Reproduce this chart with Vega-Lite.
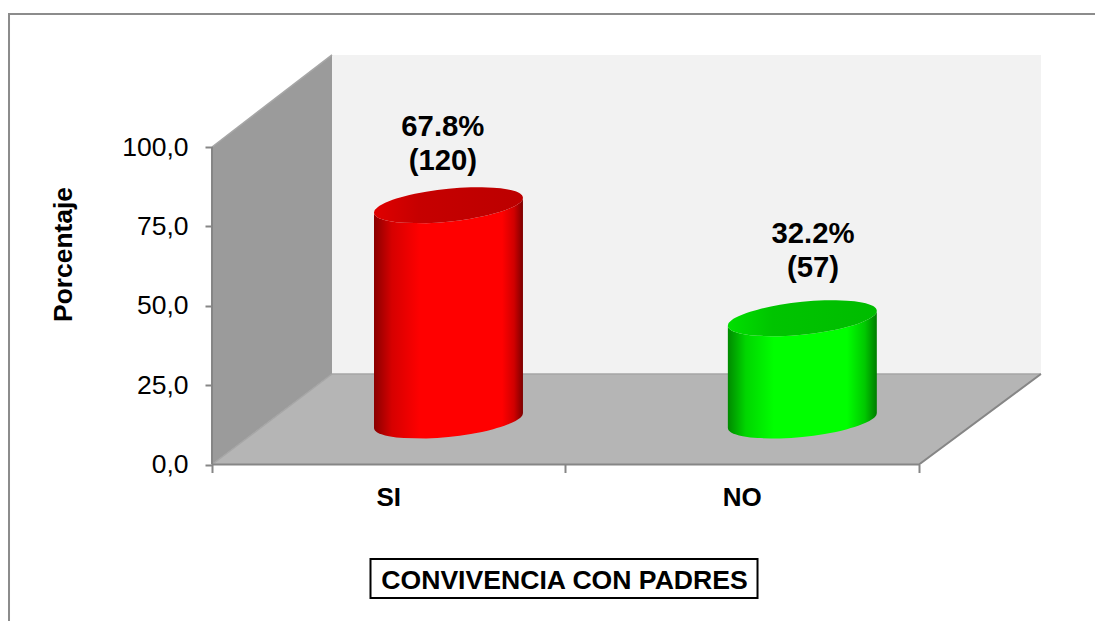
{
"$schema":"https://vega.github.io/schema/vega-lite/v6.json",
"width":1095,"height":621,"padding":0,
"autosize":{"type":"none"},
"background":"white",
"config":{"view":{"stroke":null},"text":{"font":"Liberation Sans"},"axis":{"labelFont":"Liberation Sans","titleFont":"Liberation Sans"}},
"datasets":{
"pared":[{"x":0,"y":0,"y2":100},{"x":0.3395,"y":28.5,"y2":129}],
"fondo":[{"x":0.3395,"y":28.5,"y2":129},{"x":2.345,"y":28.5,"y2":129}],
"piso":[{"x":0,"y":0,"y2":0},{"x":0.3395,"y":0,"y2":28.5},{"x":2,"y":0,"y2":28.5},{"x":2.345,"y":28.5,"y2":28.5}],
"bordes":[
{"id":"a","o":1,"x":0,"y":0},{"id":"a","o":2,"x":0,"y":100},
{"id":"b","o":1,"x":0,"y":0},{"id":"b","o":2,"x":2,"y":0},{"id":"b","o":3,"x":2.345,"y":28.5}],
"bordesClaros":[
{"id":"c","o":1,"x":0.3395,"y":28.5},{"id":"c","o":2,"x":2.345,"y":28.5},
{"id":"d","o":1,"x":0,"y":0},{"id":"d","o":2,"x":0.3395,"y":28.5},
{"id":"e","o":1,"x":0,"y":100},{"id":"e","o":2,"x":0.3395,"y":129}],
"marco":[{"o":1,"x":-0.5742,"y":-49.29},{"o":2,"x":-0.5742,"y":141.9},{"o":3,"x":2.4979,"y":141.9}],
"cuerpoSI":[
{"x":0.4583,"y":11.51,"y2":79.31},{"x":0.4594,"y":11.005,"y2":78.805},{"x":0.4625,"y":10.527,"y2":78.327},{"x":0.4687,"y":10.02,"y2":77.82},{"x":0.4794,"y":9.495,"y2":77.295},{"x":0.5004,"y":8.88,"y2":76.68},{"x":0.5426,"y":8.32,"y2":76.12},{"x":0.6058,"y":8.22,"y2":76.02},{"x":0.669,"y":8.69,"y2":76.49},{"x":0.7322,"y":9.64,"y2":77.44},{"x":0.7954,"y":11.14,"y2":78.94},{"x":0.8376,"y":12.64,"y2":80.44},{"x":0.8586,"y":13.725,"y2":81.525},{"x":0.8693,"y":14.48,"y2":82.28},{"x":0.8755,"y":15.133,"y2":82.933},{"x":0.8786,"y":15.68,"y2":83.48},{"x":0.8797,"y":16.21,"y2":84.01}],
"tapaSI":[
{"x":0.4583,"y":79.31,"y2":79.31},{"x":0.4594,"y":78.805,"y2":79.84},{"x":0.4625,"y":78.327,"y2":80.387},{"x":0.4687,"y":77.82,"y2":81.04},{"x":0.4794,"y":77.295,"y2":81.795},{"x":0.5004,"y":76.68,"y2":82.88},{"x":0.5426,"y":76.12,"y2":84.38},{"x":0.6058,"y":76.02,"y2":85.88},{"x":0.669,"y":76.49,"y2":86.83},{"x":0.7322,"y":77.44,"y2":87.30},{"x":0.7954,"y":78.94,"y2":87.20},{"x":0.8376,"y":80.44,"y2":86.64},{"x":0.8586,"y":81.525,"y2":86.025},{"x":0.8693,"y":82.28,"y2":85.50},{"x":0.8755,"y":82.933,"y2":84.993},{"x":0.8786,"y":83.48,"y2":84.515},{"x":0.8797,"y":84.01,"y2":84.01}],
"cuerpoNO":[
{"x":1.4593,"y":11.51,"y2":43.71},{"x":1.4604,"y":11.005,"y2":43.205},{"x":1.4635,"y":10.527,"y2":42.727},{"x":1.4697,"y":10.02,"y2":42.22},{"x":1.4804,"y":9.495,"y2":41.695},{"x":1.5014,"y":8.88,"y2":41.08},{"x":1.5436,"y":8.32,"y2":40.52},{"x":1.6068,"y":8.22,"y2":40.42},{"x":1.67,"y":8.69,"y2":40.89},{"x":1.7332,"y":9.64,"y2":41.84},{"x":1.7964,"y":11.14,"y2":43.34},{"x":1.8386,"y":12.64,"y2":44.84},{"x":1.8596,"y":13.725,"y2":45.925},{"x":1.8703,"y":14.48,"y2":46.68},{"x":1.8765,"y":15.133,"y2":47.333},{"x":1.8796,"y":15.68,"y2":47.88},{"x":1.8807,"y":16.21,"y2":48.41}],
"tapaNO":[
{"x":1.4593,"y":43.71,"y2":43.71},{"x":1.4604,"y":43.205,"y2":44.24},{"x":1.4635,"y":42.727,"y2":44.787},{"x":1.4697,"y":42.22,"y2":45.44},{"x":1.4804,"y":41.695,"y2":46.195},{"x":1.5014,"y":41.08,"y2":47.28},{"x":1.5436,"y":40.52,"y2":48.78},{"x":1.6068,"y":40.42,"y2":50.28},{"x":1.67,"y":40.89,"y2":51.23},{"x":1.7332,"y":41.84,"y2":51.70},{"x":1.7964,"y":43.34,"y2":51.60},{"x":1.8386,"y":44.84,"y2":51.04},{"x":1.8596,"y":45.925,"y2":50.425},{"x":1.8703,"y":46.68,"y2":49.90},{"x":1.8765,"y":47.333,"y2":49.393},{"x":1.8796,"y":47.88,"y2":48.915},{"x":1.8807,"y":48.41,"y2":48.41}],
"resultados":[
{"categoria":"SI","porcentaje":67.8,"n":120,"etiqueta":"67.8%\n(120)","x":0.653,"y":106.3},
{"categoria":"NO","porcentaje":32.2,"n":57,"etiqueta":"32.2%\n(57)","x":1.7,"y":72.6}],
"categorias":[{"categoria":"SI","x":0.5,"y":-10.55},{"categoria":"NO","x":1.5,"y":-10.55}],
"cuadro":[{"x":0.4484,"x2":1.5432,"y":-29.76,"y2":-42.05}]
},
"encoding":{
"x":{"field":"x","type":"quantitative","scale":{"domain":[-0.5997,2.4979],"nice":false,"zero":false},
"axis":{"orient":"bottom","offset":-156.5,"values":[0,1,2],"labels":false,"domain":false,"grid":false,"tickColor":"#868686","tickWidth":2,"tickSize":8,"zindex":1,
"title":"CONVIVENCIA CON PADRES","titleFontSize":26.6,"titleFontWeight":"bold","titleColor":"black","titleX":564,"titleY":115.5,"titleBaseline":"middle","titleAlign":"center","titleAnchor":null}},
"y":{"field":"y","type":"quantitative","scale":{"domain":[-49.29,146.3],"nice":false,"zero":false},
"axis":{"orient":"left","offset":-212,"values":[0,25,50,75,100],"domain":false,"grid":false,"tickColor":"#868686","tickWidth":2,"tickSize":7,"zindex":1,
"labelFontSize":26.5,"labelColor":"black","labelPadding":17,"labelExpr":"replace(format(datum.value,'.1f'),'.',',')",
"title":"Porcentaje","titleFontSize":26.4,"titleFontWeight":"bold","titleColor":"black","titleAngle":270,"titleX":-149,"titleY":254,"titleBaseline":"middle","titleAlign":"center","titleAnchor":null}}
},
"layer":[
{"data":{"name":"marco"},"mark":{"type":"line","stroke":"#8c8c8c","strokeWidth":2},"encoding":{"order":{"field":"o"}}},
{"data":{"name":"fondo"},"mark":{"type":"area","fill":"#f2f2f2"},"encoding":{"y2":{"field":"y2"}}},
{"data":{"name":"pared"},"mark":{"type":"area","fill":"#9b9b9b"},"encoding":{"y2":{"field":"y2"}}},
{"data":{"name":"piso"},"mark":{"type":"area","fill":"#b5b5b5"},"encoding":{"y2":{"field":"y2"}}},
{"data":{"name":"bordesClaros"},"mark":{"type":"line","stroke":"#a6a6a6","strokeWidth":1.5},"encoding":{"detail":{"field":"id"},"order":{"field":"o"}}},
{"data":{"name":"bordes"},"mark":{"type":"line","stroke":"#868686","strokeWidth":2},"encoding":{"detail":{"field":"id"},"order":{"field":"o"}}},
{"data":{"name":"cuerpoSI"},"mark":{"type":"area","interpolate":"monotone","fill":{"gradient":"linear","x1":0,"y1":0,"x2":1,"y2":0,"stops":[{"offset":0,"color":"#8a0000"},{"offset":0.12,"color":"#d60000"},{"offset":0.31,"color":"#ff0000"},{"offset":0.86,"color":"#ff0000"},{"offset":0.94,"color":"#d00000"},{"offset":1,"color":"#7c0000"}]}},"encoding":{"y2":{"field":"y2"}}},
{"data":{"name":"tapaSI"},"mark":{"type":"area","interpolate":"monotone","fill":{"gradient":"linear","x1":0,"y1":0,"x2":1,"y2":0,"stops":[{"offset":0,"color":"#e00000"},{"offset":0.3,"color":"#c60000"},{"offset":1,"color":"#bc0000"}]}},"encoding":{"y2":{"field":"y2"}}},
{"data":{"name":"cuerpoNO"},"mark":{"type":"area","interpolate":"monotone","fill":{"gradient":"linear","x1":0,"y1":0,"x2":1,"y2":0,"stops":[{"offset":0,"color":"#008a00"},{"offset":0.12,"color":"#00d600"},{"offset":0.31,"color":"#00ff00"},{"offset":0.8,"color":"#00ff00"},{"offset":0.92,"color":"#00c800"},{"offset":1,"color":"#007c00"}]}},"encoding":{"y2":{"field":"y2"}}},
{"data":{"name":"tapaNO"},"mark":{"type":"area","interpolate":"monotone","fill":{"gradient":"linear","x1":0,"y1":0,"x2":1,"y2":0,"stops":[{"offset":0,"color":"#00e000"},{"offset":0.3,"color":"#00c400"},{"offset":1,"color":"#00bc00"}]}},"encoding":{"y2":{"field":"y2"}}},
{"data":{"name":"resultados"},"mark":{"type":"text","fontSize":29.3,"fontWeight":"bold","color":"black","lineBreak":"\n","lineHeight":34,"align":"center","baseline":"middle"},"encoding":{"text":{"field":"etiqueta"}}},
{"data":{"name":"categorias"},"mark":{"type":"text","fontSize":26,"fontWeight":"bold","color":"black","align":"center","baseline":"middle"},"encoding":{"text":{"field":"categoria"}}},
{"data":{"name":"cuadro"},"mark":{"type":"rect","fill":null,"stroke":"black","strokeWidth":2},"encoding":{"x2":{"field":"x2"},"y2":{"field":"y2"}}}
]
}
